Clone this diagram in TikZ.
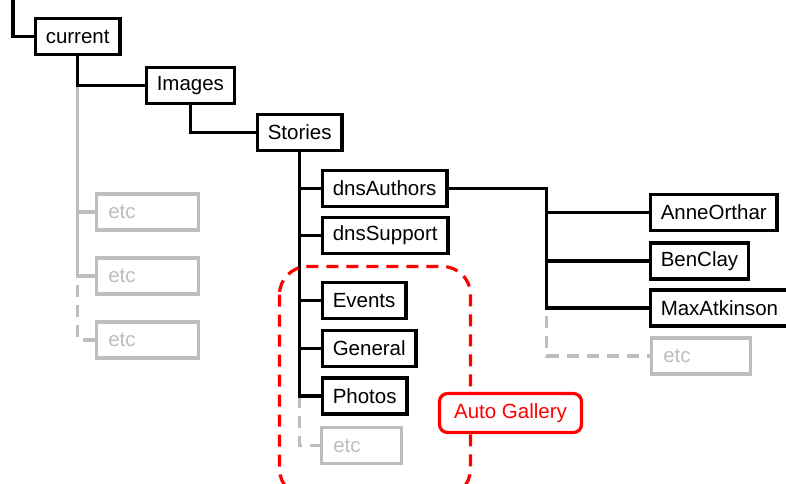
\documentclass[tikz,border=0pt]{standalone}
\usepackage{fontspec}
\setmainfont{Liberation Sans}
\definecolor{etcgray}{RGB}{190,190,190}
\definecolor{galleryred}{RGB}{255,0,0}
\tikzset{
  dirbox/.style={draw, line width=3.5pt, fill=white, anchor=west,
    font=\fontsize{20.5}{24}\selectfont, minimum height=36pt, inner xsep=10.5pt},
  etcbox/.style={draw=etcgray, text=etcgray, line width=3.5pt, fill=white, anchor=west,
    font=\fontsize{20.5}{24}\selectfont, minimum height=36pt, inner xsep=12pt,
    text width=#1, align=left},
  link/.style={line width=3.2pt},
  etclink/.style={line width=3.2pt, draw=etcgray},
  etcdash/.style={line width=3.2pt, draw=etcgray, dash pattern=on 12pt off 8pt},
  gallery/.style={line width=3.2pt, draw=galleryred, dash pattern=on 12pt off 8pt, rounded corners=28pt},
  gallerytag/.style={draw=galleryred, text=galleryred, line width=3.2pt, fill=white,
    rounded corners=8pt, font=\fontsize{20.5}{24}\selectfont, minimum height=39pt, minimum width=142pt}
}
\begin{document}
\begin{tikzpicture}[x=1pt,y=-1pt]
    \useasboundingbox (0,0) rectangle (786,483);
    \clip (0,0) rectangle (786,483);
    \node[dirbox] (current) at (33.5,36.5) {current};
    \node[dirbox] (images) at (144.5,85.5) {Images};
    \node[dirbox] (stories) at (255.5,132.5) {Stories};
    \node[dirbox] (dnsauthors) at (320.5,188.5) {dnsAuthors};
    \node[dirbox] (dnssupport) at (320.5,235.5) {dnsSupport};
    \node[dirbox] (events) at (320.5,300.5) {Events};
    \node[dirbox] (general) at (320.5,348.5) {General};
    \node[dirbox] (photos) at (320.5,396) {Photos};
    \node[etcbox=56pt] (etcstories) at (319.5,445.5) {etc};
    \node[dirbox] (anne) at (648.5,212.5) {AnneOrthar};
    \node[dirbox] (ben) at (648.5,261) {BenClay};
    \node[dirbox] (max) at (648.5,308) {MaxAtkinson};
    \node[etcbox=75pt] (etcauthors) at (649.5,356) {etc};
    \node[etcbox=78pt] (etcone) at (94.5,212) {etc};
    \node[etcbox=78pt] (etctwo) at (94.5,276) {etc};
    \node[etcbox=78pt] (etcthree) at (94.5,340) {etc};
    \coordinate (root) at (13,-2);
    \path (dnsauthors.east) ++(98,0) coordinate (fork);

    \draw[link] (root) |- (current.west);
    \draw[etclink] (current.south |- images.west) |- (etcone.west);
    \draw[etclink] (current.south |- images.west) |- (etctwo.west);
    \draw[etcdash] (current.south |- etctwo.west) ++(0,9) |- (etcthree.west);
    \draw[link] (current.south) |- (images.west);
    \draw[link] (images.south) |- (stories.west);
    \draw[etcdash] (stories.south |- photos.west) |- (etcstories.west);
    \draw[link] (stories.south) |- (dnsauthors.west);
    \draw[link] (stories.south) |- (dnssupport.west);
    \draw[link] (stories.south) |- (events.west);
    \draw[link] (stories.south) |- (general.west);
    \draw[link] (stories.south) |- (photos.west);
    \draw[etcdash] (fork |- max.west) ++(0,8) |- (etcauthors.west);
    \draw[link] (dnsauthors.east) -- (fork) |- (anne.west);
    \draw[link] (fork) |- (ben.west);
    \draw[link] (fork) |- (max.west);

    \draw[gallery] (279.5,266.5) rectangle (470.5,497);
    \node[gallerytag] (autogallery) at (510.5,413) {Auto Gallery};
\end{tikzpicture}
\end{document}
